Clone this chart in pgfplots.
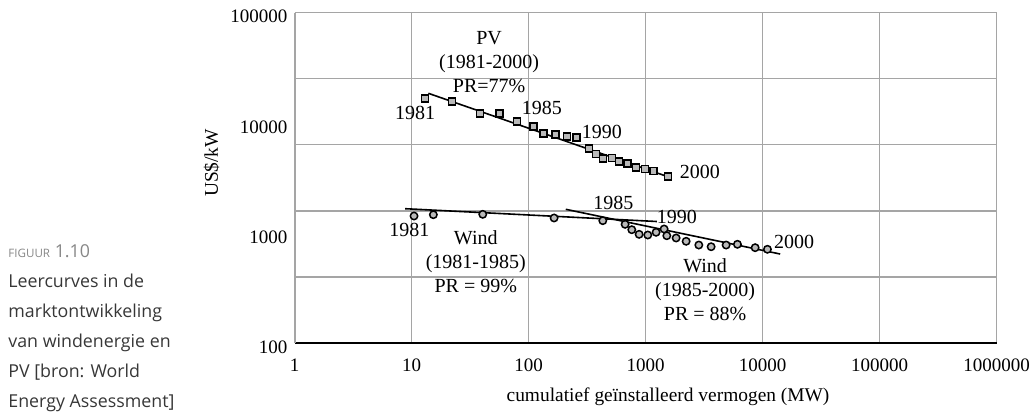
\documentclass[border=0pt]{standalone}
\usepackage{fontspec}
\setmainfont{Liberation Serif}
\newfontfamily\capfont{Open Sans}
\usepackage{pgfplots}
\pgfplotsset{compat=1.18}
\definecolor{gridc}{RGB}{165,165,165}
\definecolor{markc}{RGB}{185,185,185}
\definecolor{capc}{RGB}{55,55,55}
\definecolor{figc}{RGB}{135,135,135}

\begin{document}
\begin{tikzpicture}
\path[use as bounding box] (0pt,0pt) rectangle (515.5pt,208pt);

% caption on the left
\begin{scope}[every node/.style={anchor=base west, inner sep=0pt, text=capc, font=\capfont\fontsize{8.9}{10}\selectfont}]
\node at (4pt,79.35pt) {\textcolor{figc}{{\fontsize{5.8}{7}\selectfont FIGUUR} 1.10}};
\node at (4pt,64.35pt) {Leercurves in de};
\node at (4pt,49.35pt) {marktontwikkeling};
\node at (4pt,34.35pt) {van windenergie en};
\node at (4pt,19.35pt) {PV [bron: World};
\node at (4pt,4.35pt) {Energy Assessment]};
\end{scope}

\node[rotate=90, font=\fontsize{9.7}{11}\selectfont] at (105.85pt,126.5pt) {US\$/kW};
\node[font=\fontsize{9.7}{11}\selectfont] at (334pt,9.5pt) {cumulatief geïnstalleerd vermogen (MW)};

\begin{axis}[
  at={(147.25pt,36.5pt)}, anchor=south west, scale only axis,
  width=351.1pt, height=165.15pt,
  xmode=log, ymode=log,
  xmin=1, xmax=1000000, ymin=100, ymax=100000,
  xtick={1,10,100,1000,10000,100000,1000000},
  xticklabels={1,10,100,1000,10000,100000,1000000},
  ytick={100,1000,10000,100000},
  yticklabels={100,1000,10000,100000},
  xminorticks=false, yminorticks=false,
  minor tick length=0pt,
  xmajorgrids,
  extra y ticks={398.107,1584.89,6309.57,25118.9,100000},
  extra y tick labels={},
  extra y tick style={grid=major, major tick length=0pt},
  major tick length=0pt,
  grid style={gridc, line width=0.65pt},
  axis x line*=bottom, axis y line*=left,
  x axis line style={black, line width=1.3pt, -},
  y axis line style={gridc, line width=1pt, -},
  tick label style={font=\fontsize{9.5}{11}\selectfont},
  /pgf/number format/assume math mode=true,
  xticklabel style={anchor=base, yshift=-14.25pt},
  yticklabel style={yshift=-2pt},
  clip=false,
  every node/.append style={font=\fontsize{9.7}{11}\selectfont},
]
% PV data 1981-2000
\addplot[only marks, mark=square*, mark size=1.75pt,
  mark options={fill=markc, draw=black, line width=0.75pt}] coordinates {
(13.05,16700) (22.06,15550) (38.5,12090) (56.3,12090) (79.3,10230)
(109.9,9220) (133.8,7960) (169.4,7860) (212,7475) (258,7385)
(329,5820) (377.6,5207) (430.8,4760) (514,4790) (593.6,4432)
(699,4288) (829.4,3942) (990,3805) (1166,3651) (1548,3238)};
\addplot[black, line width=0.8pt] coordinates {(13.92,18530) (1620,3186)};

% Wind data 1981-2000
\addplot[only marks, mark=*, mark size=1.85pt,
  mark options={fill=markc, draw=black, line width=0.75pt}] coordinates {
(10.50,1424) (15.36,1463) (40.6,1475) (165.2,1366) (430.8,1291)
(668,1197) (762,1069) (880,971) (1044,957) (1229,1013)
(1439,1085) (1518,943) (1823,899) (2220,839) (2849,776)
(3630,749) (4876,776) (6089,788) (8629,734) (10990,710)};
\addplot[black, line width=0.8pt] coordinates {(8.80,1659) (1246,1269)};
\addplot[black, line width=0.8pt] coordinates {(207.9,1638) (14110,643)};

\node[align=center] at (axis cs:46,35880) {PV\\(1981-2000)\\PR=77\%};
\node at (axis cs:10.71,12200) {1981};
\node at (axis cs:129.7,13540) {1985};
\node at (axis cs:422.4,8200) {1990};
\node at (axis cs:2906,3596) {2000};

\node at (axis cs:9.58,1063) {1981};
\node[align=center] at (axis cs:35.4,547.5) {Wind\\(1981-1985)\\PR = 99\%};
\node at (axis cs:530.6,1881) {1985};
\node at (axis cs:1848,1403) {1990};
\node at (axis cs:18590,832) {2000};
\node[align=center] at (axis cs:3225,307.4) {Wind\\(1985-2000)\\PR = 88\%};
\end{axis}
\end{tikzpicture}
\end{document}
